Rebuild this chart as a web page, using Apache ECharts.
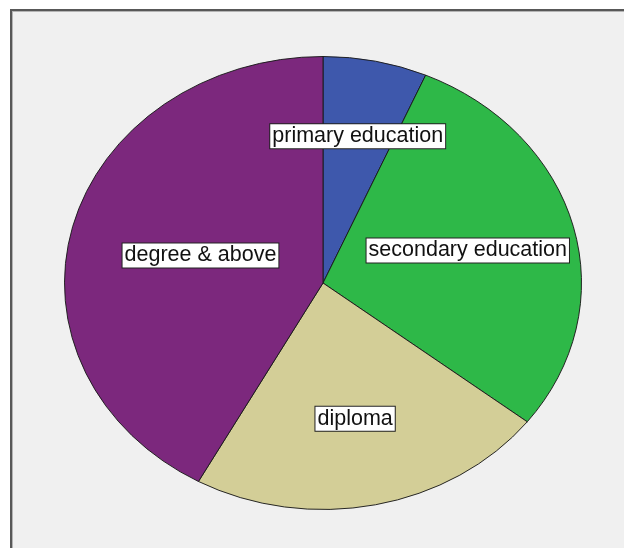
<!DOCTYPE html>
<html><head><meta charset="utf-8">
<script src="https://cdn.jsdelivr.net/npm/echarts@6/dist/echarts.min.js"></script>
<style>
html,body{margin:0;padding:0;background:#fff;}
#wrap{position:relative;width:624px;height:548px;overflow:hidden;}
#frame{position:absolute;left:10px;top:9px;width:614px;height:539px;box-sizing:border-box;border-left:2px solid #585858;border-top:2px solid #585858;box-shadow:inset 1px 1px 0 #b4b4b4;background:#f0f0f0;}
#pie,#labels{position:absolute;left:0;top:0;width:624px;height:548px;}
#pie{transform:scaleY(0.87621);transform-origin:0 283px;}
</style></head>
<body><div id="wrap"><div id="frame"></div><div id="pie"></div><div id="labels"></div></div>
<script>
const categories = ['primary education', 'secondary education', 'diploma', 'degree & above'];
const counts = [13, 58, 45, 84];
const colors = ['#3E58AC', '#2EB848', '#D3CE97', '#7C287D'];

const CX = 323, CY = 283, R = 258.5, K = 226.5 / 258.5;
const total = counts.reduce((a, b) => a + b, 0);
const pieData = categories.map((c, i) => ({ name: c, value: counts[i], itemStyle: { color: colors[i] } }));

// Sectors (circle drawn by ECharts, stretched vertically into SPSS-style ellipse)
const chartA = echarts.init(document.getElementById('pie'), null, { renderer: 'svg' });
chartA.setOption({
  animation: false,
  series: [{
    type: 'pie',
    center: [CX, CY],
    radius: R,
    startAngle: 90,
    clockwise: true,
    silent: true,
    label: { show: false },
    labelLine: { show: false },
    itemStyle: { borderColor: '#1a1a1a', borderWidth: 1 },
    data: pieData
  }]
});

// Labels (unstretched text, placed at the slice centroid of the ellipse)
const chartB = echarts.init(document.getElementById('labels'));
chartB.setOption({
  animation: false,
  series: [{
    type: 'pie',
    center: [CX, CY],
    radius: R,
    startAngle: 90,
    clockwise: true,
    silent: true,
    avoidLabelOverlap: false,
    itemStyle: { color: 'rgba(0,0,0,0)', borderWidth: 0 },
    emphasis: { disabled: true },
    labelLine: { show: false },
    label: {
      show: true,
      position: 'inside',
      formatter: '{b}',
      overflow: 'none',
      fontFamily: 'Liberation Sans, Arial, sans-serif',
      fontSize: 21.5,
      color: '#111',
      backgroundColor: '#ffffff',
      borderColor: '#222',
      borderWidth: 1,
      padding: [1, 2, 1, 2]
    },
    labelLayout: function (p) {
      const r = p.labelRect;
      const lx = r.x + r.width / 2, ly = r.y + r.height / 2;
      const dx = lx - CX, dy = ly - CY;
      const d = Math.hypot(dx, dy) || 1;
      const half = Math.PI * counts[p.dataIndex] / total;
      const f = (2 / 3) * Math.sin(half) / half;
      return {
        x: CX + dx / d * R * f,
        y: CY + dy / d * R * f * K,
        align: 'center',
        verticalAlign: 'middle'
      };
    },
    data: categories.map((c, i) => ({ name: c, value: counts[i] }))
  }]
});
</script>
</body></html>
